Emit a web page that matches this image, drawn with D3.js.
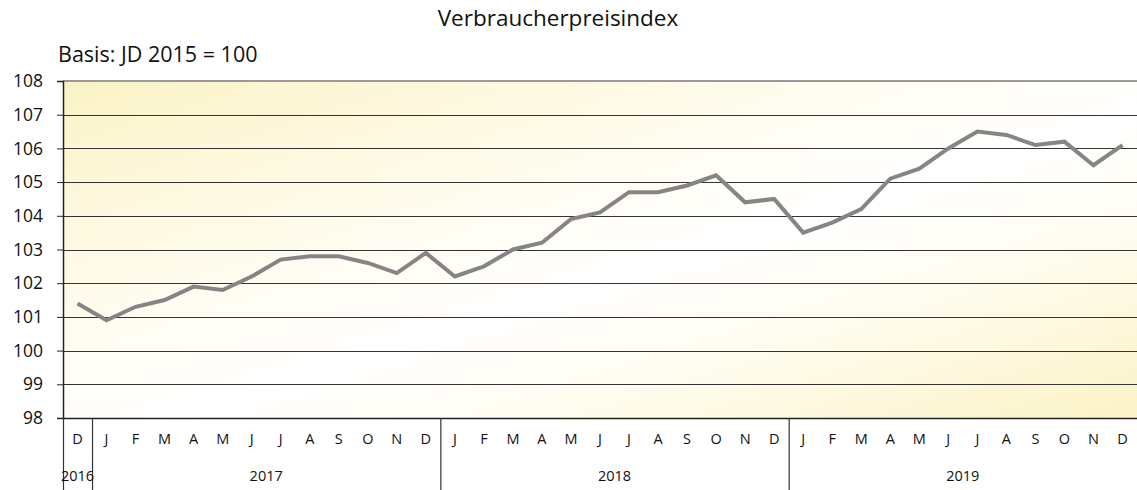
<!DOCTYPE html>
<html><head><meta charset="utf-8">
<script src="https://cdn.jsdelivr.net/npm/d3@7"></script>
<style>body{margin:0;background:#fff}svg{display:block}text{font-family:"Open Sans","Noto Sans",sans-serif;fill:#111}</style>
</head><body><svg id="c" width="1137" height="490"></svg>
<script>
const months = ["D","J","F","M","A","M","J","J","A","S","O","N","D","J","F","M","A","M","J","J","A","S","O","N","D","J","F","M","A","M","J","J","A","S","O","N","D"];
const years = [{label:"2016", start:0, end:1},{label:"2017", start:1, end:13},{label:"2018", start:13, end:25},{label:"2019", start:25, end:37}];
const values = [101.4,
 100.9,101.3,101.5,101.9,101.8,102.2,102.7,102.8,102.8,102.6,102.3,102.9,
 102.2,102.5,103.0,103.2,103.9,104.1,104.7,104.7,104.9,105.2,104.4,104.5,
 103.5,103.8,104.2,105.1,105.4,106.0,106.5,106.4,106.1,106.2,105.5,106.1];
const yTicks = [98,99,100,101,102,103,104,105,106,107,108];

const svg = d3.select("#c");
const L=63, R=1137, T=81, B=418;
const x = d3.scaleBand().domain(d3.range(months.length)).range([L,R]);
const y = d3.scaleLinear().domain([98,108]).range([B,T]);

const defs = svg.append("defs");
const g = defs.append("linearGradient").attr("id","bg").attr("x1","0").attr("y1","0").attr("x2","1").attr("y2","1");
g.append("stop").attr("offset","0%").attr("stop-color","#fbf3c6");
g.append("stop").attr("offset","40%").attr("stop-color","#fffdf3");
g.append("stop").attr("offset","55%").attr("stop-color","#ffffff");
g.append("stop").attr("offset","70%").attr("stop-color","#fffdf2");
g.append("stop").attr("offset","100%").attr("stop-color","#fbf3c6");
svg.append("rect").attr("x",L).attr("y",T).attr("width",R-L).attr("height",B-T).attr("fill","url(#bg)");

// gridlines
svg.append("g").selectAll("line").data(yTicks.slice(1,-1)).join("line")
  .attr("x1",L).attr("x2",R).attr("y1",d=>Math.round(y(d))+0.5).attr("y2",d=>Math.round(y(d))+0.5)
  .attr("stroke","#333").attr("stroke-width",1.2);
// top border
svg.append("line").attr("x1",L).attr("x2",R).attr("y1",T).attr("y2",T).attr("stroke","#9a9a9a").attr("stroke-width",2);
// bottom
svg.append("line").attr("x1",L).attr("x2",R).attr("y1",B+0.5).attr("y2",B+0.5).attr("stroke","#222").attr("stroke-width",1.5);

// y axis
const ya = d3.axisLeft(y).tickValues(yTicks).tickSize(6).tickPadding(14);
const yg = svg.append("g").attr("transform",`translate(${L},0)`).call(ya);
yg.select(".domain").attr("stroke","#222").attr("stroke-width",1.5);
yg.selectAll(".tick line").attr("stroke","#222");
yg.selectAll(".tick text").attr("font-size",17.5).style("fill","#111");

// x axis month labels
const xa = d3.axisBottom(x).tickFormat(i=>months[i]).tickSize(0).tickPadding(16);
const xg = svg.append("g").attr("transform",`translate(0,${B})`).call(xa);
xg.select(".domain").remove();
xg.selectAll(".tick text").attr("font-size",14.5).style("fill","#111");

// year separators and labels
const sepIdx = [0,1,13,25];
svg.append("g").selectAll("line").data(sepIdx).join("line")
  .attr("x1",i=>x(i)+0.5).attr("x2",i=>x(i)+0.5).attr("y1",B).attr("y2",490)
  .attr("stroke","#333").attr("stroke-width",1.2);
svg.append("g").selectAll("text").data(years).join("text")
  .attr("x",d=>(x(d.start)+x(d.end-1)+x.bandwidth())/2).attr("y",481)
  .attr("text-anchor","middle").attr("font-size",14.5).text(d=>d.label);

// line
const line = d3.line().x((d,i)=>x(i)+x.bandwidth()/2).y(d=>y(d));
svg.append("path").datum(values).attr("d",line).attr("fill","none")
  .attr("stroke","#858585").attr("stroke-width",4).attr("stroke-linejoin","miter");

// titles
svg.append("text").attr("x",558).attr("y",26).attr("text-anchor","middle").attr("font-size",22.5).text("Verbraucherpreisindex");
svg.append("text").attr("x",58).attr("y",62).attr("font-size",21.5).text("Basis: JD 2015 = 100");
</script></body></html>
